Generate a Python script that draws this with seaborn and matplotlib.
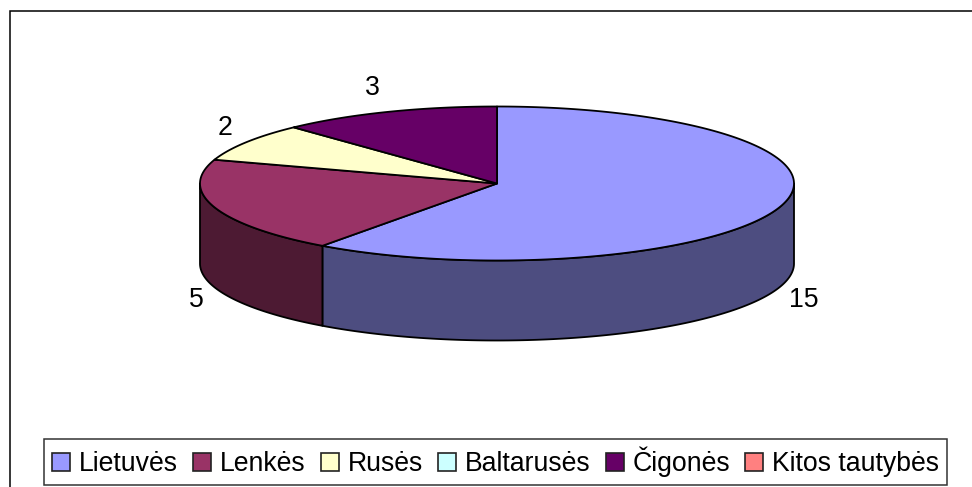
import numpy as np
import pandas as pd
import seaborn as sns
import matplotlib.pyplot as plt
from matplotlib.patches import Polygon, Rectangle

# Values
categories = ['Lietuvės', 'Lenkės', 'Rusės', 'Baltarusės', 'Čigonės', 'Kitos tautybės']
values = [15, 5, 2, 0, 3, 0]
top_colors = ['#9999FF', '#993366', '#FFFFCC', '#CCFFFF', '#660066', '#FF8080']
side_colors = ['#4D4D80', '#4D1A33']

sns.set_style('white')
plt.rcParams['font.family'] = ['Liberation Sans', 'DejaVu Sans']

data = pd.DataFrame({'category': categories, 'value': values, 'color': top_colors})
data['start'] = data['value'].cumsum().shift(fill_value=0) / data['value'].sum() * 2 * np.pi
data['end'] = data['value'].cumsum() / data['value'].sum() * 2 * np.pi

# Pie geometry in picture pixels
cx, cy, rx, ry, depth = 497, 183.5, 297, 77, 80


def rim(a, b, n=200):
    t = np.linspace(a, b, n)
    return np.column_stack([cx + rx * np.sin(t), cy - ry * np.cos(t)])


fig = plt.figure(figsize=(9.72, 4.87), dpi=100)
ax = fig.add_axes([0, 0, 1, 1])
ax.set_xlim(0, 972)
ax.set_ylim(487, 0)
ax.axis('off')

# Chart border, only left and top fall inside the picture
ax.add_patch(Rectangle((9.5, 10.5), 1000, 1000, fc='white', ec='black', lw=1.1))

# Side walls, only the front half of the ellipse is visible
for i, row in data.iterrows():
    a = max(row['start'], np.pi / 2)
    b = min(row['end'], 3 * np.pi / 2)
    if row['value'] == 0 or a >= b:
        continue
    edge = rim(a, b)
    wall = np.vstack([edge, edge[::-1] + [0, depth]])
    ax.add_patch(Polygon(wall, closed=True, fc=side_colors[i], ec='black', lw=1.3, joinstyle='round'))

# Top slices
for _, row in data.iterrows():
    if row['value'] == 0:
        continue
    wedge = np.vstack([[cx, cy], rim(row['start'], row['end'])])
    ax.add_patch(Polygon(wedge, closed=True, fc=row['color'], ec='black', lw=1.3, joinstyle='round'))

# Value labels
label_pos = {'Lietuvės': (804, 300), 'Lenkės': (196, 300), 'Rusės': (225, 128), 'Čigonės': (372, 88)}
for _, row in data.iterrows():
    if row['category'] in label_pos:
        x, y = label_pos[row['category']]
        ax.text(x, y, str(row['value']), ha='center', va='center', fontsize=19.2, color='black')

# Legend
handles = [Rectangle((0, 0), 1, 1, fc=c, ec='#222222', lw=1.2) for c in top_colors]
leg = ax.legend(handles, categories, loc='center', bbox_to_anchor=(495.75 / 972, 1 - 462 / 487),
                ncol=6, fontsize=19.2, labelcolor='black', frameon=True, fancybox=False, framealpha=1,
                edgecolor='#333333', handlelength=0.675, handleheight=0.675, handletextpad=0.34,
                columnspacing=0.56, borderpad=0.3, borderaxespad=0)
leg.get_frame().set_linewidth(1.1)

fig.savefig('out.png', dpi=100)
